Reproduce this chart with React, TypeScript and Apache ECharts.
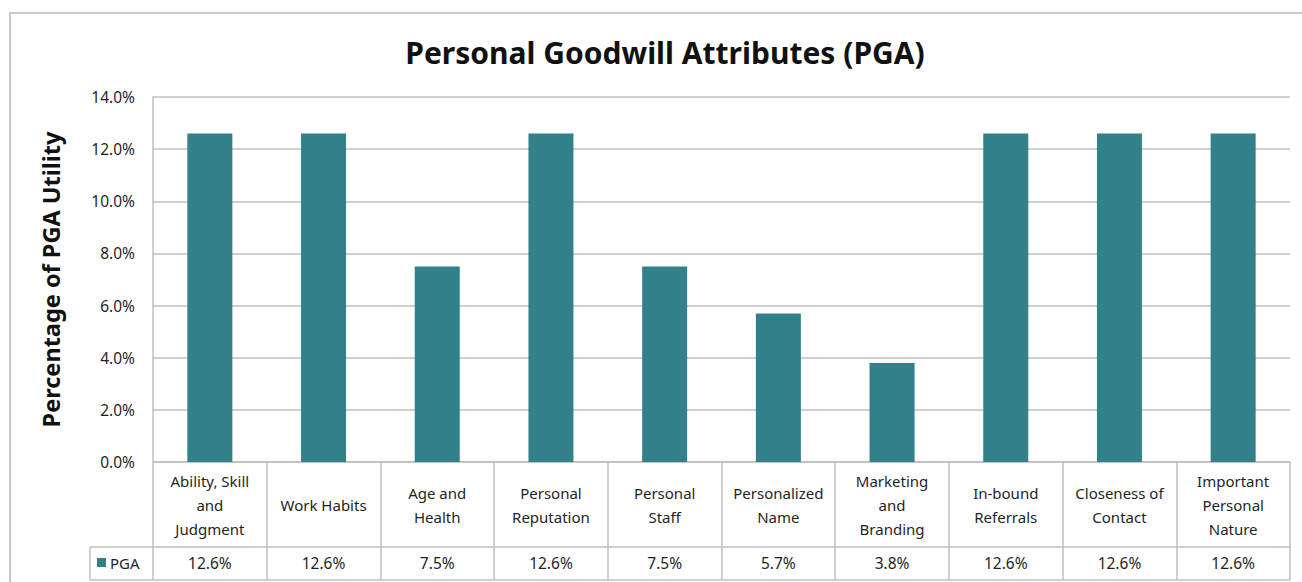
import React, { useEffect, useRef } from "react";
import * as echarts from "echarts";

const categories = [
  "Ability, Skill\nand\nJudgment",
  "Work Habits",
  "Age and\nHealth",
  "Personal\nReputation",
  "Personal\nStaff",
  "Personalized\nName",
  "Marketing\nand\nBranding",
  "In-bound\nReferrals",
  "Closeness of\nContact",
  "Important\nPersonal\nNature",
];
const pgaValues = [12.6, 12.6, 7.5, 12.6, 7.5, 5.7, 3.8, 12.6, 12.6, 12.6];
const seriesName = "PGA";
const yTicks = { min: 0, max: 14, interval: 2 };

const TEAL = "#31808A";
const GRID = "#BFBFBF";
const TEXT = "#1F1F1F";
const FONT = "'Noto Sans', 'Open Sans', sans-serif";

export default function App() {
  const ref = useRef<HTMLDivElement>(null);
  useEffect(() => {
    if (!ref.current) return;
    const chart = echarts.init(ref.current, undefined, { renderer: "svg" });
    const gridLeft = 153;
    const gridRight = 1290;
    const gridTop = 97;
    const gridBottom = 462;
    chart.setOption({
      animation: false,
      backgroundColor: "#fff",
      textStyle: { fontFamily: FONT },
      title: {
        text: "Personal Goodwill Attributes (PGA)",
        left: 660,
        textAlign: "center",
        top: 32,
        textStyle: { fontSize: 30, fontWeight: "bold", color: "#111", fontFamily: FONT },
      },
      grid: {
        left: gridLeft,
        top: gridTop,
        width: gridRight - gridLeft,
        height: gridBottom - gridTop,
        containLabel: false,
      },
      xAxis: [
        {
          type: "category",
          data: categories,
          boundaryGap: true,
          axisLine: { show: true, lineStyle: { color: GRID, width: 1.5 } },
          axisTick: { show: true, length: 118, lineStyle: { color: GRID, width: 1.5 } },
          axisLabel: {
            interval: 0,
            margin: 43,
            verticalAlign: "middle",
            lineHeight: 24,
            fontSize: 15,
            color: TEXT,
            fontFamily: FONT,
          },
        },
        {
          type: "category",
          data: pgaValues.map((v) => v.toFixed(1) + "%"),
          position: "bottom",
          offset: 85,
          boundaryGap: true,
          axisLine: { show: true, lineStyle: { color: GRID, width: 1.5 } },
          axisTick: { show: false },
          axisLabel: {
            interval: 0,
            margin: 16,
            verticalAlign: "middle",
            fontSize: 15.5,
            color: TEXT,
            fontFamily: FONT,
          },
        },
      ],
      yAxis: {
        type: "value",
        min: yTicks.min,
        max: yTicks.max,
        interval: yTicks.interval,
        name: "Percentage of PGA Utility",
        nameLocation: "middle",
        nameGap: 90,
        nameTextStyle: { fontSize: 23.5, fontWeight: "bold", color: "#111", fontFamily: FONT },
        axisLine: { show: true, lineStyle: { color: GRID, width: 1.5 } },
        axisTick: { show: false },
        splitLine: { show: true, lineStyle: { color: GRID, width: 1.5 } },
        axisLabel: {
          margin: 18,
          fontSize: 15.5,
          color: TEXT,
          fontFamily: FONT,
          formatter: (v: number) => v.toFixed(1) + "%",
        },
      },
      series: [
        {
          name: seriesName,
          type: "bar",
          data: pgaValues,
          barWidth: 45,
          itemStyle: { color: TEAL },
        },
      ],
      graphic: [
        {
          type: "rect",
          shape: { x: 10, y: 13, width: 1310, height: 620 },
          style: { fill: "none", stroke: "#C8C8C8", lineWidth: 2 },
          silent: true,
        },
        {
          type: "line",
          shape: { x1: 90, y1: 547, x2: gridLeft, y2: 547 },
          style: { stroke: GRID, lineWidth: 1.5 },
        },
        {
          type: "line",
          shape: { x1: 90, y1: 580, x2: gridRight, y2: 580 },
          style: { stroke: GRID, lineWidth: 1.5 },
        },
        {
          type: "line",
          shape: { x1: 90, y1: 547, x2: 90, y2: 580 },
          style: { stroke: GRID, lineWidth: 1.5 },
        },
        {
          type: "rect",
          shape: { x: 97, y: 558, width: 9, height: 9 },
          style: { fill: TEAL },
        },
        {
          type: "text",
          x: 110,
          y: 563,
          style: {
            text: seriesName,
            fontSize: 15,
            fill: TEXT,
            fontFamily: FONT,
            verticalAlign: "middle",
          },
        },
      ],
    });
    return () => chart.dispose();
  }, []);
  return (
    <div
      ref={ref}
      style={{ position: "fixed", left: 0, top: 0, width: 1302, height: 582 }}
    />
  );
}
